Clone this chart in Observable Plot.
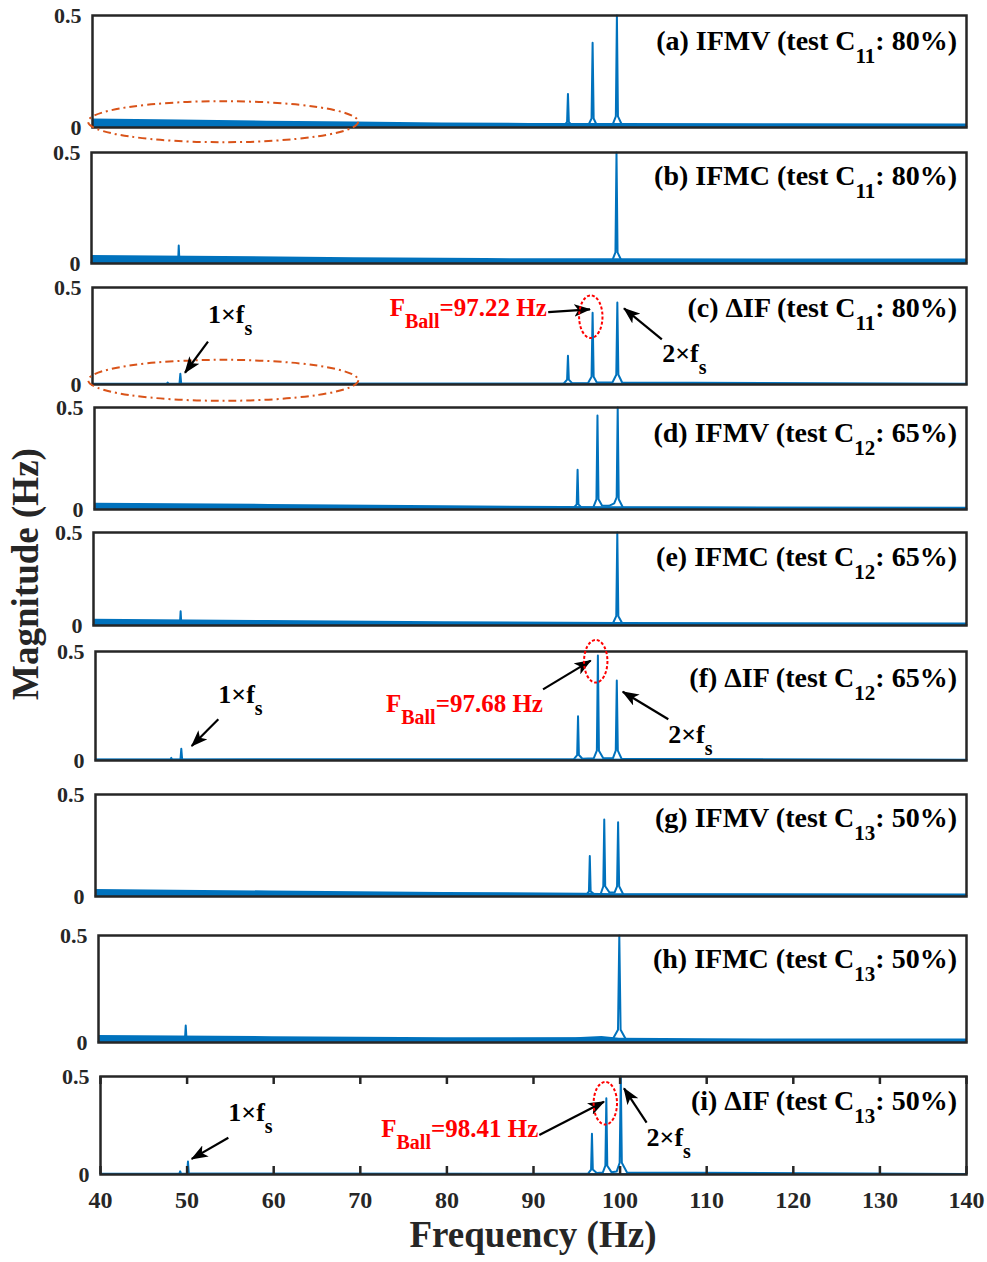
<!DOCTYPE html>
<html><head><meta charset="utf-8">
<script src="https://cdn.jsdelivr.net/npm/d3@7"></script>
<script src="https://cdn.jsdelivr.net/npm/@observablehq/plot@0.6"></script>
<style>
body{margin:0;background:#fff;}
#chart{position:relative;width:987px;height:1262px;font-family:"Liberation Serif","Times New Roman",serif;}
#chart svg{position:absolute;left:0;overflow:visible;}
text{white-space:pre;}
</style></head><body><div id="chart"></div>
<script>
const BLUE = "#0072BD", INK = "#262626", FONT = "'Liberation Serif','Times New Roman',serif";

// ---------- tick values ----------
const xTicks = [40, 50, 60, 70, 80, 90, 100, 110, 120, 130, 140];
const yTicks = [0, 0.5];

// ---------- panel texts ----------
const panelTags = ["(a)", "(b)", "(c)", "(d)", "(e)", "(f)", "(g)", "(h)", "(i)"];
const panelSignals = ["IFMV", "IFMC", "ΔIF", "IFMV", "IFMC", "ΔIF", "IFMV", "IFMC", "ΔIF"];
const panelTests = ["11", "11", "11", "12", "12", "12", "13", "13", "13"];
const panelLoads = ["80%", "80%", "80%", "65%", "65%", "65%", "50%", "50%", "50%"];
const ballFreqs = ["97.22", "97.68", "98.41"];

// ---------- spectra [frequency Hz, magnitude] ----------
const specA = [[40,0.004],[93.9,0.005],[94.3,0.025],[94.4,0.15],[94.5,0.025],[94.9,0.006],[96.7,0.008],[97.1,0.04],[97.22,0.378],[97.34,0.04],[97.7,0.01],[99.5,0.012],[99.88,0.05],[100,0.5],[100.12,0.05],[100.6,0.01],[140,0.004]];
const specB = [[40,0.004],[49.9,0.006],[49.97,0.081],[50.05,0.006],[94.2,0.005],[94.4,0.014],[94.6,0.005],[99.5,0.012],[99.88,0.05],[100,0.5],[100.12,0.05],[100.6,0.01],[140,0.004]];
const specC = [[40,0.003],[48.5,0.003],[48.6,0.01],[48.7,0.003],[49.95,0.004],[50.05,0.055],[50.15,0.004],[93.9,0.004],[94.3,0.025],[94.4,0.148],[94.5,0.025],[94.9,0.006],[96.7,0.008],[97.1,0.04],[97.22,0.37],[97.34,0.04],[97.7,0.01],[99.5,0.012],[99.93,0.05],[100.05,0.423],[100.17,0.05],[100.6,0.01],[140,0.003]];
const specD = [[40,0.004],[94.9,0.006],[95.3,0.025],[95.4,0.195],[95.5,0.025],[95.9,0.008],[97.2,0.01],[97.56,0.05],[97.68,0.461],[97.8,0.05],[98.2,0.02],[99,0.018],[99.6,0.03],[99.88,0.06],[100,0.5],[100.12,0.05],[100.6,0.01],[140,0.004]];
const specE = [[40,0.004],[49.9,0.006],[49.98,0.077],[50.06,0.006],[99.5,0.012],[99.88,0.05],[100,0.5],[100.12,0.05],[100.6,0.01],[140,0.004]];
const specF = [[40,0.003],[48.6,0.003],[48.7,0.012],[48.8,0.003],[49.75,0.004],[49.85,0.054],[49.95,0.004],[94.9,0.005],[95.3,0.025],[95.4,0.203],[95.5,0.025],[95.9,0.008],[97.2,0.01],[97.56,0.045],[97.68,0.482],[97.8,0.045],[98.3,0.01],[99.4,0.01],[99.73,0.045],[99.85,0.367],[99.97,0.045],[100.4,0.008],[140,0.003]];
const specG = [[40,0.004],[96.3,0.006],[96.65,0.025],[96.75,0.198],[96.85,0.025],[97.3,0.01],[98,0.012],[98.3,0.05],[98.41,0.377],[98.52,0.05],[99,0.02],[99.6,0.02],[99.88,0.05],[100,0.364],[100.12,0.05],[100.6,0.01],[140,0.004]];
const specH = [[40,0.004],[49.95,0.006],[50.05,0.079],[50.15,0.006],[99.3,0.02],[99.85,0.06],[100,0.5],[100.15,0.06],[100.8,0.012],[140,0.004]];
const specI = [[40,0.003],[49.1,0.003],[49.2,0.016],[49.3,0.003],[50.0,0.004],[50.1,0.066],[50.2,0.004],[96.3,0.004],[96.65,0.025],[96.75,0.208],[96.85,0.025],[97.3,0.008],[98,0.01],[98.3,0.045],[98.41,0.389],[98.52,0.045],[99,0.012],[99.6,0.015],[99.95,0.06],[100.08,0.5],[100.2,0.06],[100.8,0.01],[140,0.003]];

// ---------- noise floor envelopes [frequency Hz, magnitude] ----------
const noiseA = [[40,0.038],[50,0.033],[60,0.028],[70,0.024],[80,0.02],[90,0.018],[100,0.018],[120,0.017],[140,0.016]];
const noiseB = [[40,0.036],[55,0.032],[70,0.026],[85,0.022],[100,0.021],[140,0.02]];
const noiseC = [[40,0.007],[140,0.006]];
const noiseD = [[40,0.031],[60,0.025],[80,0.018],[100,0.013],[140,0.011]];
const noiseE = [[40,0.033],[60,0.027],[80,0.02],[100,0.016],[140,0.014]];
const noiseF = [[40,0.007],[140,0.006]];
const noiseG = [[40,0.034],[60,0.027],[80,0.02],[96,0.016],[100,0.014],[140,0.012]];
const noiseH = [[40,0.033],[60,0.027],[80,0.022],[95,0.022],[98,0.028],[100,0.02],[110,0.017],[140,0.016]];
const noiseI = [[40,0.006],[140,0.005]];

const specs = [specA, specB, specC, specD, specE, specF, specG, specH, specI];
const noises = [noiseA, noiseB, noiseC, noiseD, noiseE, noiseF, noiseG, noiseH, noiseI];

// ---------- annotation anchors (data units: Hz, magnitude) ----------
const annots = [
  {k: 2, fs1Text: [53.27, 0.313], fs1Arrow: [[53.27, 0.218], [50.64, 0.058]], ballText: [92.03, 0.351], ballArrow: [[92.2, 0.370], [96.98, 0.385]], ballEll: [97.07, 0.347], fs2Text: [105.25, 0.115], fs2Arrow: [[105.2, 0.230], [100.87, 0.390]]},
  {k: 5, fs1Text: [54.16, 0.263], fs1Arrow: [[54.16, 0.187], [51.10, 0.064]], ballText: [91.43, 0.2216], ballArrow: [[91.44, 0.324], [96.91, 0.456]], ballEll: [97.49, 0.453], fs2Text: [105.82, 0.079], fs2Arrow: [[105.82, 0.187], [100.59, 0.313]]},
  {k: 8, fs1Text: [54.82, 0.272], fs1Arrow: [[54.82, 0.185], [50.59, 0.077]], ballText: [90.61, 0.187], ballArrow: [[90.73, 0.199], [98.2, 0.369]], ballEll: [98.35, 0.361], fs2Text: [103.12, 0.143], fs2Arrow: [[103.12, 0.262], [100.51, 0.437]]}
];
const floorRings = [{k: 0, c: [55.0, 0.0237]}, {k: 2, c: [55.02, 0.019]}];

// ---------- layout (pixels) ----------
const layout = [
  {L: 92, T: 15, B: 127, labelY: 50},
  {L: 91, T: 152, B: 263, labelY: 185},
  {L: 92, T: 287, B: 384, labelY: 317},
  {L: 94, T: 407, B: 509, labelY: 442},
  {L: 93, T: 532, B: 625, labelY: 566},
  {L: 95, T: 651, B: 760, labelY: 687},
  {L: 95, T: 794, B: 896, labelY: 827},
  {L: 98, T: 935, B: 1042, labelY: 968},
  {L: 100, T: 1076, B: 1174, labelY: 1110}
];
const R = 966;
const TICK_PX = 8;

const chart = document.getElementById("chart");
const plots = [];
layout.forEach((g, k) => {
  const last = k === layout.length - 1;
  const mT = 20, mB = last ? 60 : 20;
  const H = g.B - g.T;
  const marks = [
    Plot.areaY(noises[k], {x: d => d[0], y: d => d[1], fill: BLUE}),
    Plot.lineY(specs[k], {x: d => d[0], y: d => d[1], stroke: BLUE, strokeWidth: 2, strokeLinejoin: "round"}),
    Plot.frame({stroke: INK, strokeWidth: 2.5}),
    Plot.axisY(yTicks, {tickSize: 0, tickPadding: 11, fontSize: 22, fontWeight: "bold", label: null, tickFormat: d => String(d)})
  ];
  if (last) {
    const tl = 0.5 * TICK_PX / H;
    marks.push(Plot.ruleX(xTicks, {x: d => d, y1: 0, y2: tl, stroke: INK, strokeWidth: 2.5}));
    marks.push(Plot.ruleX(xTicks, {x: d => d, y1: 0.5 - tl, y2: 0.5, stroke: INK, strokeWidth: 2.5}));
    marks.push(Plot.axisX(xTicks, {tickSize: 0, tickPadding: 16, fontSize: 24, fontWeight: "bold", label: null}));
  }
  const plot = Plot.plot({
    width: 987, height: H + mT + mB,
    marginLeft: g.L, marginRight: 987 - R, marginTop: mT, marginBottom: mB,
    x: {domain: [40, 140], axis: last ? undefined : null},
    y: {domain: [0, 0.5]},
    style: {background: "transparent", overflow: "visible", color: INK, fontFamily: FONT},
    marks
  });
  plot.style.position = "absolute";
  plot.style.top = (g.T - mT) + "px";
  plot.style.left = "0px";
  chart.appendChild(plot);
  plots.push({plot, top: g.T - mT});
});

// ---------- overlay: labels, annotations, titles ----------
const ov = d3.select(chart).append("svg")
  .attr("width", 987).attr("height", 1262)
  .style("position", "absolute").style("top", "0px").style("left", "0px")
  .style("font-family", FONT).style("font-weight", "bold").style("pointer-events", "none");

ov.append("defs").append("marker")
  .attr("id", "ah").attr("viewBox", "0 0 16 12").attr("refX", 15).attr("refY", 6)
  .attr("markerWidth", 17).attr("markerHeight", 13).attr("markerUnits", "userSpaceOnUse").attr("orient", "auto")
  .append("path").attr("d", "M0,0 L16,6 L0,12 L4,6 Z").attr("fill", "#000");

function P(k, hz, mag) {
  const p = plots[k];
  return [p.plot.scale("x").apply(hz), p.plot.scale("y").apply(mag) + p.top];
}
function rich(x, y, parts, {size, sub, anchor = "start", fill = "#000", shift = 12}) {
  const t = ov.append("text").attr("x", x).attr("y", y).attr("text-anchor", anchor)
    .attr("fill", fill).attr("font-size", size);
  let cur = 0;
  parts.forEach(([s, isSub]) => {
    const target = isSub ? shift : 0;
    t.append("tspan").attr("dy", target - cur).attr("font-size", isSub ? sub : size).text(s);
    cur = target;
  });
}
function arrow(k, a, b) {
  const p0 = P(k, a[0], a[1]), p1 = P(k, b[0], b[1]);
  ov.append("line").attr("x1", p0[0]).attr("y1", p0[1]).attr("x2", p1[0]).attr("y2", p1[1])
    .attr("stroke", "#000").attr("stroke-width", 2.2).attr("marker-end", "url(#ah)");
}

// panel labels
layout.forEach((g, k) => {
  rich(957, g.labelY, [[`${panelTags[k]} ${panelSignals[k]} (test C`, false], [panelTests[k], true], [`: ${panelLoads[k]})`, false]],
    {size: 28, sub: 21, anchor: "end", shift: 13});
});

// orange dash-dot rings around low-frequency floor
floorRings.forEach(r => {
  const c = P(r.k, r.c[0], r.c[1]);
  ov.append("ellipse").attr("cx", c[0]).attr("cy", c[1]).attr("rx", 135).attr("ry", 20.5)
    .attr("fill", "none").attr("stroke", "#D95319").attr("stroke-width", 2).attr("stroke-dasharray", "8,4,2,4");
});

// ΔIF annotations
annots.forEach((a, j) => {
  const k = a.k;
  let p = P(k, a.fs1Text[0], a.fs1Text[1]);
  rich(p[0], p[1], [["1×f", false], ["s", true]], {size: 26, sub: 20});
  arrow(k, a.fs1Arrow[0], a.fs1Arrow[1]);
  p = P(k, a.ballText[0], a.ballText[1]);
  rich(p[0], p[1], [["F", false], ["Ball", true], [`=${ballFreqs[j]} Hz`, false]], {size: 25, sub: 20, anchor: "end", fill: "#FF0000"});
  arrow(k, a.ballArrow[0], a.ballArrow[1]);
  p = P(k, a.ballEll[0], a.ballEll[1]);
  ov.append("ellipse").attr("cx", p[0]).attr("cy", p[1]).attr("rx", 11.7).attr("ry", 21.3)
    .attr("fill", "none").attr("stroke", "#FF0000").attr("stroke-width", 2).attr("stroke-dasharray", "3,2");
  p = P(k, a.fs2Text[0], a.fs2Text[1]);
  rich(p[0], p[1], [["2×f", false], ["s", true]], {size: 26, sub: 20});
  arrow(k, a.fs2Arrow[0], a.fs2Arrow[1]);
});

// axis titles
ov.append("text").attr("transform", "translate(38,574) rotate(-90)").attr("text-anchor", "middle")
  .attr("font-size", 37).attr("fill", INK).text("Magnitude (Hz)");
ov.append("text").attr("x", 533).attr("y", 1247).attr("text-anchor", "middle")
  .attr("font-size", 37).attr("fill", INK).text("Frequency (Hz)");
</script></body></html>
